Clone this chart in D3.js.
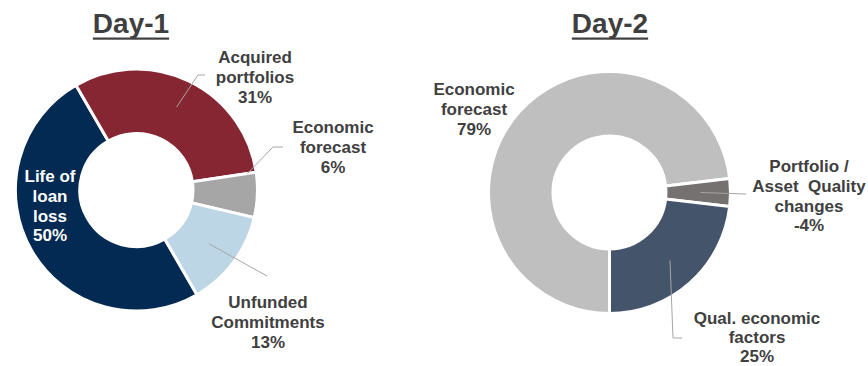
<!DOCTYPE html>
<html>
<head>
<meta charset="utf-8">
<script src="https://cdn.jsdelivr.net/npm/d3@7/dist/d3.min.js"></script>
<style>
  html, body { margin: 0; padding: 0; background: #ffffff; }
  svg { display: block; font-family: "Liberation Sans", Arial, sans-serif; }
</style>
</head>
<body>
<svg id="chart" width="868" height="366"></svg>
<script>
// Day-1 allowance build-up
const day1Categories = ["Life of loan loss", "Acquired portfolios", "Economic forecast", "Unfunded Commitments"];
const day1Values = [50, 31, 6, 13];
const day1Colors = ["#032a52", "#862633", "#a6a6a6", "#bcd6e6"];

// Day-2 allowance build-up
const day2Categories = ["Economic forecast", "Portfolio / Asset  Quality changes", "Qual. economic factors"];
const day2Values = [79, -4, 25];
const day2Colors = ["#bfbfbf", "#757171", "#44546a"];

// Label text broken into lines (value line appended from the data)
const day1LabelLines = [["Life of", "loan", "loss"], ["Acquired", "portfolios"], ["Economic", "forecast"], ["Unfunded", "Commitments"]];
const day2LabelLines = [["Economic", "forecast"], ["Portfolio /", "Asset  Quality", "changes"], ["Qual. economic", "factors"]];

const svg = d3.select("#chart");
const outerR = 121, innerR = 56.5;
const labelColor = "#404040";

function drawDonut(cfg) {
  const g = svg.append("g").attr("transform", `translate(${cfg.cx},${cfg.cy})`);
  const deg = Math.PI / 180;
  const pie = d3.pie()
    .sort(null)
    .value(d => Math.abs(d.value))
    .startAngle(cfg.start * deg)
    .endAngle(cfg.start * deg + 2 * Math.PI);
  const data = cfg.categories.map((c, i) => ({ name: c, value: cfg.values[i], color: cfg.colors[i], lines: cfg.lines[i], lab: cfg.labels[i] }));
  const arcs = pie(data);
  const arc = d3.arc().innerRadius(innerR).outerRadius(outerR);

  g.selectAll("path.slice")
    .data(arcs)
    .join("path")
    .attr("class", "slice")
    .attr("d", arc)
    .attr("fill", d => d.data.color)
    .attr("stroke", "#ffffff")
    .attr("stroke-width", 3)
    .attr("stroke-linejoin", "miter");

  // leader lines from the slice to its label
  arcs.forEach(a => {
    const lab = a.data.lab;
    if (!lab.leader) return;
    const ang = a.startAngle + (a.endAngle - a.startAngle) * lab.leader.t;
    const r = lab.leader.r;
    const p0 = [Math.sin(ang) * r, -Math.cos(ang) * r];
    const pts = [p0].concat(lab.leader.pts);
    g.append("path")
      .attr("d", d3.line()(pts))
      .attr("fill", "none")
      .attr("stroke", "#a6a6a6")
      .attr("stroke-width", 1);
  });

  // labels: category lines followed by the value
  arcs.forEach(a => {
    const lab = a.data.lab;
    const lines = a.data.lines.concat([a.data.value + "%"]);
    const t = g.append("text")
      .attr("x", lab.x)
      .attr("y", lab.y)
      .attr("text-anchor", "middle")
      .attr("font-size", 17)
      .attr("font-weight", "bold")
      .attr("fill", lab.color || labelColor)
      .style("white-space", "pre");
    lines.forEach((ln, i) => {
      t.append("tspan")
        .attr("x", lab.x)
        .attr("dy", i === 0 ? 0 : (lab.gap || 19.8))
        .text(ln);
    });
  });

  // underlined title
  const title = svg.append("text")
    .attr("x", cfg.titleX)
    .attr("y", 33)
    .attr("text-anchor", "middle")
    .attr("font-size", 28)
    .attr("font-weight", "bold")
    .attr("fill", "#3f3f3f")
    .text(cfg.title);
  const w = title.node().getComputedTextLength();
  svg.append("rect")
    .attr("x", cfg.titleX - w / 2)
    .attr("y", 37.5)
    .attr("width", w)
    .attr("height", 2.2)
    .attr("fill", "#3f3f3f");
}

drawDonut({
  title: "Day-1", titleX: 131,
  cx: 136.5, cy: 190, start: 150,
  categories: day1Categories, values: day1Values, colors: day1Colors, lines: day1LabelLines,
  labels: [
    { x: -86.5, y: -8, color: "#ffffff" },
    { x: 118.5, y: -127, leader: { t: 0.5, r: 92, pts: [[61.5, -115], [68.5, -115]] } },
    { x: 196.5, y: -57, leader: { t: 0.0, r: 112, pts: [[136.5, -43], [146.5, -43]] } },
    { x: 131.5, y: 118, leader: { t: 0.5, r: 90, pts: [[130.5, 86]] } }
  ]
});

drawDonut({
  title: "Day-2", titleX: 610,
  cx: 609.5, cy: 192.5, start: 180,
  categories: day2Categories, values: day2Values, colors: day2Colors, lines: day2LabelLines,
  labels: [
    { x: -135.5, y: -97.5 },
    { x: 199.5, y: -20.5, leader: { t: 0.5, r: 91, pts: [[136.5, 1.5]] } },
    { x: 147.5, y: 131.5, gap: 18.8, leader: { t: 0.5, r: 91, pts: [[63.5, 145.5], [72.5, 145.5]] } }
  ]
});
</script>
</body>
</html>
